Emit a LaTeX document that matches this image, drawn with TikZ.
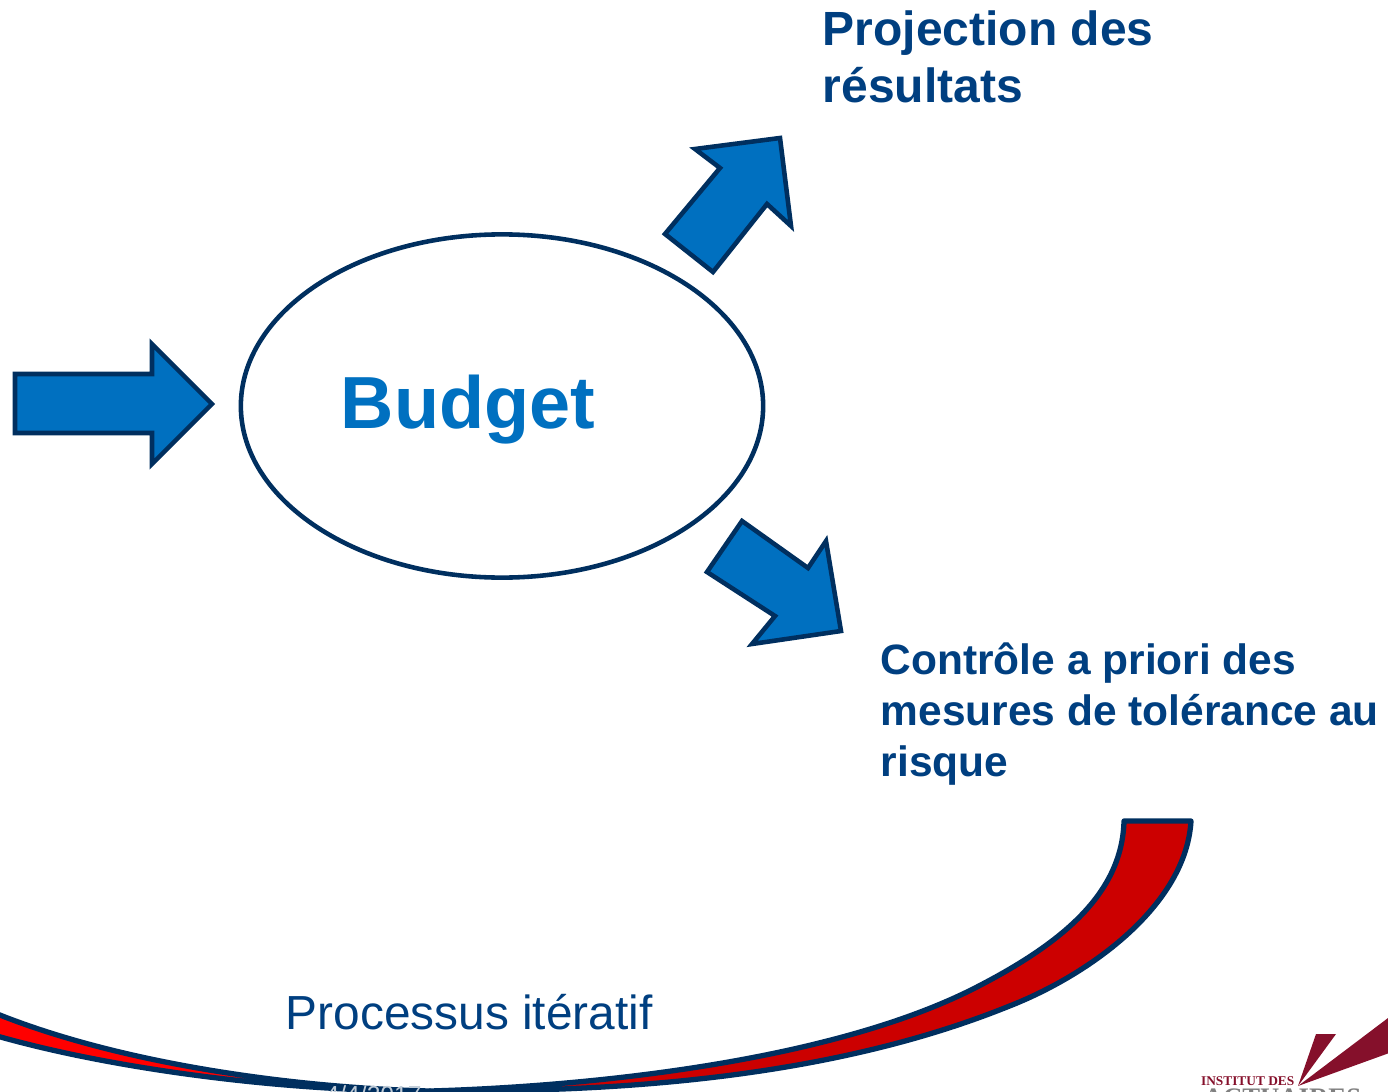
\documentclass[tikz,border=0pt]{standalone}
\usepackage{fontspec}
\usetikzlibrary{shapes.geometric}
\setmainfont{Liberation Sans}
\newfontfamily\logofont{Liberation Serif}
\definecolor{myblue}{HTML}{0070C0}
\definecolor{myline}{HTML}{002F5F}
\definecolor{mytext}{HTML}{003F80}
\definecolor{myred}{HTML}{CC0000}
\definecolor{mylogo}{HTML}{85102B}
\tikzset{
    blockarrow/.style={draw=myline, fill=myblue, line width=1.3pt, line join=miter},
    ribbon/.style={draw=myline, line width=1.5pt, line join=round},
    headtext/.style={anchor=north west, align=left, text=mytext, font=\bfseries\fontsize{13.65}{16.2}\selectfont, inner sep=0pt},
}
\begin{document}
\begin{tikzpicture}[x=0.01cm, y=-0.01cm]

    \useasboundingbox (0, 0) rectangle (1388, 1091);

    \begin{scope}
    \clip (0, 0) rectangle (1388, 1091);

    % Incoming arrow
    \draw[blockarrow] (15, 374) -- (152, 374) -- (152, 344) -- (212, 404) -- (152, 464) -- (152, 433) -- (15, 433) -- cycle;

    % Arrow to the projection
    \draw[blockarrow] (665, 234) -- (720, 168) -- (695, 149) -- (780, 138) -- (791, 226) -- (767, 204) -- (713, 272) -- cycle;

    % Arrow to the control
    \draw[blockarrow] (742, 521) -- (808, 568) -- (826, 541) -- (841, 631) -- (752, 644) -- (775, 616) -- (707, 572) -- cycle;

    % Budget
    \node[draw=myline, line width=1.3pt, ellipse, minimum width=5.22cm, minimum height=3.43cm, inner sep=0pt] (budget) at (502, 406) {};
    \node[text=myblue, font=\bfseries\fontsize{21}{25}\selectfont, inner sep=0pt] (budgetlabel) at (468, 410) {Budget};

    % Labels
    \node[headtext] (projection) at (822, 10) {Projection des\\résultats};
    \node[headtext, font=\bfseries\fontsize{12.08}{14.5}\selectfont] (controle) at (880, 642) {Contrôle a priori des\\mesures de tolérance au\\risque};
    \node[text=mytext, anchor=west, font=\fontsize{13.6}{16}\selectfont, inner sep=0pt] (processus) at (285, 1012) {Processus itératif};

    % Ribbon, right part
    \draw[ribbon, fill=myred] (1124, 821) -- (1191, 821)
        .. controls (1186, 905) and (1090, 975) .. (1007, 1007)
        .. controls (820, 1082) and (600, 1092) .. (430, 1091)
        .. controls (600, 1086) and (830, 1060) .. (971, 990)
        .. controls (1060, 945) and (1122, 895) .. cycle;

    % Ribbon, left part
    \draw[ribbon, fill=red] (-10, 1011) .. controls (120, 1065) and (300, 1088) .. (430, 1091)
        .. controls (300, 1092) and (120, 1072) .. (-10, 1034) -- cycle;

    % Date, cut by the page edge
    \node[text=white!75!myline, anchor=base west, font=\fontsize{7}{8}\selectfont, inner sep=0pt] (date) at (325, 1103) {4/4/2017};

    % Logo
    \fill[mylogo] (1298, 1086) -- (1316, 1034) -- (1336, 1034) -- cycle;
    \fill[mylogo] (1298, 1086) -- (1392, 1015) -- (1392, 1052) -- cycle;
    \node[text=mylogo, anchor=base east, font=\logofont\bfseries\fontsize{3.8}{5}\selectfont, inner sep=0pt] (institut) at (1295, 1085) {INSTITUT DES};
    \node[text=gray, anchor=base west, font=\logofont\bfseries\fontsize{7.6}{9}\selectfont, inner sep=0pt] (actuaires) at (1203, 1106) {ACTUAIRES};
    \end{scope}

\end{tikzpicture}
\end{document}
